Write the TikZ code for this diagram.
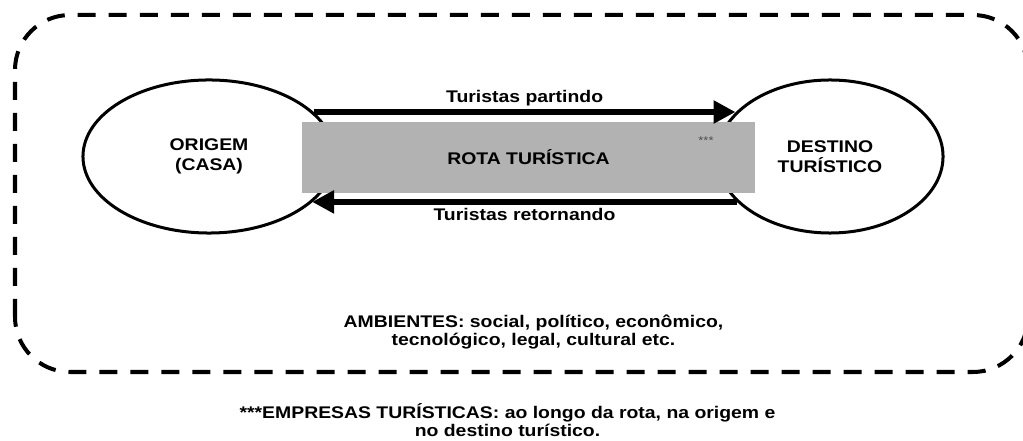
\documentclass[tikz,border=0pt]{standalone}
\usepackage{fontspec}
\setmainfont{Liberation Sans}[FakeStretch=1.15]
\usetikzlibrary{arrows.meta,shapes.geometric}

\begin{document}
\begin{tikzpicture}[x=0.025cm,y=0.025cm]
		\tikzstyle{place}=[draw,ellipse,line width=0.075cm,fill=white,align=center,font=\fontsize{12}{14.2}\selectfont\bfseries,inner sep=0pt]
		\tikzstyle{route}=[fill=black!30,minimum width=11.325cm,minimum height=1.775cm,font=\fontsize{12}{14.2}\selectfont\bfseries,inner sep=0pt]
		\tikzstyle{flow}=[-{Triangle[length=0.55cm,width=0.55cm]},line width=0.14cm]
		\tikzstyle{flowtext}=[midway,font=\fontsize{12}{14.2}\selectfont\bfseries,inner sep=2.5pt]
		\tikzstyle{environment}=[draw,dash pattern=on 0.45cm off 0.325cm,line width=0.1cm,rounded corners=1.375cm]
		\tikzstyle{caption}=[align=center,font=\fontsize{12}{12.8}\selectfont\bfseries]
		\useasboundingbox (0,0) rectangle (1023,440);
		% environment
		\draw [environment] (15,68) rectangle (1028,425);
		% origin and destination
		\node [place,minimum width=6.3cm,minimum height=3.825cm] at (209,283.5) (orig) {ORIGEM\\(CASA)};
		\node [place,minimum width=5.65cm,minimum height=3.825cm] at (830,283.5) (dest) {DESTINO\\TURÍSTICO};
		% route
		\node [route] at (528.5,282.5) (rota) {ROTA TURÍSTICA};
		\node [font=\fontsize{8}{9}\selectfont,color=black!70] at (706,299) (firms) {***};
		% flows
		\draw [flow] (orig.23) -- (dest.155 |- orig.23) node[flowtext,above] (out) {Turistas partindo};
		\draw [flow] (dest.206.5) -- (orig.-24 |- dest.206.5) node[flowtext,below] (back) {Turistas retornando};
		% captions
		\node [caption] at (533.5,108) (amb) {AMBIENTES: social, político, econômico,\\tecnológico, legal, cultural etc.};
		\node [caption] at (507.5,20) (note) {***EMPRESAS TURÍSTICAS: ao longo da rota, na origem e\\no destino turístico.};
	\end{tikzpicture}
\end{document}
